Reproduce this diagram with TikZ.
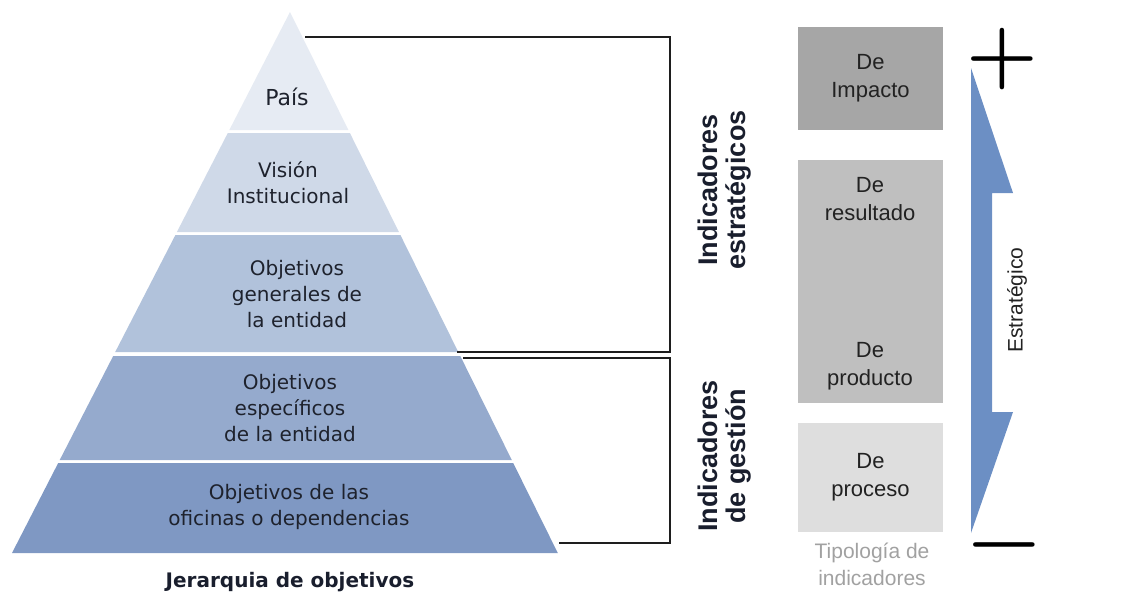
\documentclass[tikz,border=0pt]{standalone}
\usepackage[no-math]{fontspec}
\setmainfont{Liberation Sans}
\newfontfamily\pyrfont{DejaVu Sans}
\newfontfamily\signfont{Latin Modern Roman}
\usetikzlibrary{positioning}

\definecolor{lay1}{RGB}{230,235,243}
\definecolor{lay2}{RGB}{207,217,232}
\definecolor{lay3}{RGB}{177,194,219}
\definecolor{lay4}{RGB}{149,170,205}
\definecolor{lay5}{RGB}{127,152,195}
\definecolor{laytext}{RGB}{30,34,45}
\definecolor{imp}{RGB}{166,166,166}
\definecolor{res}{RGB}{191,191,191}
\definecolor{proc}{RGB}{222,222,222}
\definecolor{boxtext}{RGB}{34,34,34}
\definecolor{labtext}{RGB}{25,30,45}
\definecolor{brline}{RGB}{30,30,30}
\definecolor{arrowblue}{RGB}{108,143,196}

\begin{document}
\begin{tikzpicture}[x=1pt,y=-1pt,
  layer/.style={font=\pyrfont\fontsize{20}{26}\selectfont,text=laytext,align=center},
  tipo/.style={minimum width=145pt,inner sep=0pt},
  boxlbl/.style={font=\fontsize{22}{28}\selectfont,text=boxtext,align=center},
  bracket/.style={draw=brline,line width=2pt},
  grouplbl/.style={rotate=90,align=center,text=labtext,
    font=\bfseries\fontsize{27}{28}\selectfont},
  signo/.style={inner sep=0pt,font=\signfont\bfseries\fontsize{82}{84}\selectfont}]
\useasboundingbox (0,0) rectangle (1140,595);

% piramide
\fill[lay1] (290,12) -- (348.4,130) -- (229.3,130) -- cycle;
\fill[lay2] (227.8,133) -- (349.9,133) -- (398.9,232) -- (176.9,232) -- cycle;
\fill[lay3] (175.4,235) -- (400.4,235) -- (458.3,352) -- (115.2,352) -- cycle;
\fill[lay4] (113.2,356) -- (460.3,356) -- (511.8,460) -- (59.7,460) -- cycle;
\fill[lay5] (58.2,463) -- (513.2,463) -- (557.8,553) -- (12,553) -- cycle;

\node[layer,font=\pyrfont\fontsize{22}{26}\selectfont] (p_1) at (287,97) {País};
\node[layer] (p_2) at (288,183) {Visión\\Institucional};
\node[layer] (p_3) at (297,294) {Objetivos\\generales de\\la entidad};
\node[layer] (p_4) at (290,408) {Objetivos\\específicos\\de la entidad};
\node[layer] (p_5) at (289,507) {Objetivos de las\\oficinas o dependencias};
\node[font=\pyrfont\bfseries\fontsize{20}{24}\selectfont,text=labtext] (jer) at (290,582) {Jerarquia de objetivos};

% llaves
\coordinate (e_1) at (305,37);
\coordinate (e_2) at (457,352);
\coordinate (e_3) at (463,358);
\coordinate (e_4) at (559,543);
\coordinate (k) at (670,0);
\draw[bracket] (e_1) -- (e_1 -| k) |- (e_2);
\draw[bracket] (e_3) -- (e_3 -| k) |- (e_4);

\node[grouplbl] (l_est) at (725,190) {Indicadores\\estratégicos};
\node[grouplbl] (l_ges) at (725,456) {Indicadores\\de gestión};

% tipologia
\node[tipo,boxlbl,fill=imp,minimum height=103pt] (b_1) at (870.5,78.5) {De\\Impacto};
\node[tipo,fill=res,minimum height=243pt] (b_2) at (870.5,281.5) {};
\node[boxlbl] (t_res) at (870,199) {De\\resultado};
\node[boxlbl] (t_prod) at (870,366) {De\\producto};
\node[tipo,boxlbl,fill=proc,minimum height=109pt] (b_3) at (870.5,477.5) {De\\proceso};
\node[font=\fontsize{21}{27}\selectfont,text=black!37,align=center] (t_tipo) at (872,564) {Tipología de\\indicadores};

% flecha
\fill[arrowblue] (971,68) -- (1013,193) -- (992,193) -- (992,412) -- (1013,412) -- (971,533) -- cycle;
\node[rotate=90,font=\fontsize{21}{24}\selectfont,text=boxtext] (l_arr) at (1017,300) {Estratégico};
\node[signo] (s_mas) at (1002,59) {+};
\node[signo] (s_menos) at (1004,554) {−};
\end{tikzpicture}
\end{document}
